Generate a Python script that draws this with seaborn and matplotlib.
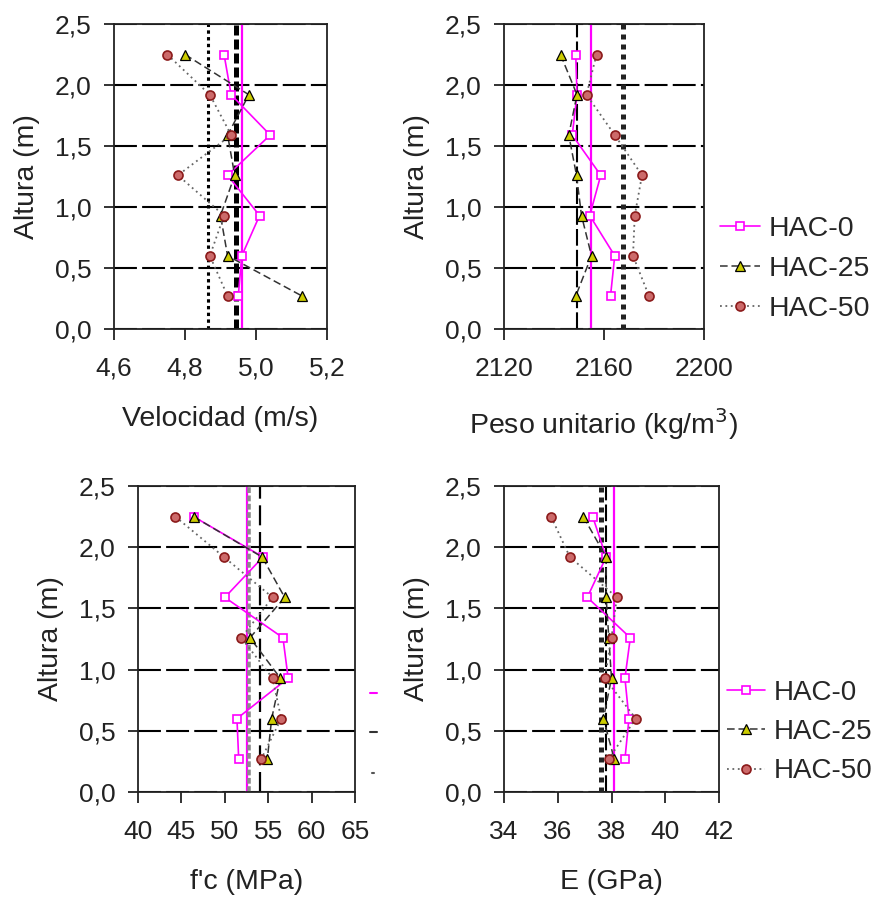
import matplotlib
matplotlib.use('Agg')
import matplotlib.pyplot as plt
from matplotlib.lines import Line2D
from matplotlib.ticker import FixedLocator
import seaborn as sns

sns.set_theme(style='ticks')
plt.rcParams['font.family'] = ['Liberation Sans', 'DejaVu Sans']

# Heights (m) of the sampling points, top to bottom
altura = [2.25, 1.92, 1.59, 1.26, 0.93, 0.60, 0.27]
yticks = [0.0, 0.5, 1.0, 1.5, 2.0, 2.5]
ytick_labels = ['0,0', '0,5', '1,0', '1,5', '2,0', '2,5']
series = ['HAC-0', 'HAC-25', 'HAC-50']

# Velocidad (m/s)
vel_hac0 = [4.91, 4.93, 5.04, 4.92, 5.01, 4.96, 4.95]
vel_hac25 = [4.80, 4.98, 4.92, 4.94, 4.90, 4.92, 5.13]
vel_hac50 = [4.75, 4.87, 4.93, 4.78, 4.91, 4.87, 4.92]
vel_mean = [4.96, 4.944, 4.866]
vel_ticks = [4.6, 4.8, 5.0, 5.2]
vel_labels = ['4,6', '4,8', '5,0', '5,2']

# Peso unitario (kg/m3)
peso_hac0 = [2148.7, 2149.2, 2147.3, 2158.7, 2154.3, 2164.3, 2162.6]
peso_hac25 = [2142.6, 2149.2, 2145.9, 2149.0, 2151.0, 2155.0, 2148.7]
peso_hac50 = [2157.0, 2153.0, 2164.3, 2175.2, 2172.3, 2171.6, 2178.0]
peso_mean = [2154.7, 2149.2, 2167.6]
peso_ticks = [2120, 2160, 2200]
peso_labels = ['2120', '2160', '2200']

# f'c (MPa)
fc_hac0 = [46.4, 54.4, 50.0, 56.7, 57.3, 51.4, 51.6]
fc_hac25 = [46.4, 54.3, 56.9, 52.9, 56.4, 55.4, 54.9]
fc_hac50 = [44.3, 49.9, 55.5, 51.9, 55.5, 56.5, 54.2]
fc_mean = [52.6, 54.0, 52.8]
fc_ticks = [40, 45, 50, 55, 60, 65]
fc_labels = ['40', '45', '50', '55', '60', '65']

# E (GPa)
e_hac0 = [37.3, 37.8, 37.1, 38.7, 38.5, 38.65, 38.5]
e_hac25 = [36.95, 37.8, 37.8, 37.9, 38.0, 37.7, 38.1]
e_hac50 = [35.75, 36.45, 38.2, 38.0, 37.75, 38.9, 37.9]
e_mean = [38.1, 37.78, 37.6]
e_ticks = [34, 36, 38, 40, 42]
e_labels = ['34', '36', '38', '40', '42']

MAG = '#ff00ff'
FS_TICK = 19
FS = 20.5

point_style = {
    'HAC-0': dict(color=MAG, marker='s', markersize=6, markerfacecolor='white',
                  markeredgecolor=MAG, markeredgewidth=1.2, linestyle='-', linewidth=1.2),
    'HAC-25': dict(color='#333333', marker='^', markersize=7.5, markerfacecolor='#cccc00',
                   markeredgecolor='black', markeredgewidth=0.9, linestyle=(0, (5, 2.5)), linewidth=1.1),
    'HAC-50': dict(color='#666666', marker='o', markersize=6.5, markerfacecolor='#cc6a6a',
                   markeredgecolor='#8b1a1a', markeredgewidth=1.2, linestyle=(0, (1, 2)), linewidth=1.3),
}

fig = plt.figure(figsize=(8.83, 8.98), dpi=100)


def draw_panel(rect, values, means, mean_styles, xlim, xticks, xlabels, xlabel,
               legend=False, legend_fs=FS):
    ax = fig.add_axes(rect)
    for m, ms in zip(means, mean_styles):
        ax.axvline(m, zorder=2, **ms)
    for name, vals in zip(series, values):
        sns.lineplot(x=vals, y=altura, sort=False, estimator=None, ax=ax,
                     label=name, zorder=3, **point_style[name])
    ax.set_xlim(*xlim)
    ax.set_ylim(0, 2.5)
    ax.xaxis.set_major_locator(FixedLocator(xticks))
    ax.set_xticklabels(xlabels)
    ax.set_yticks(yticks)
    ax.set_yticklabels(ytick_labels)
    ax.yaxis.grid(True, color='black', linewidth=1.5, linestyle=(0, (11, 2.5)))
    ax.set_axisbelow(True)
    for sp in ax.spines.values():
        sp.set_color('#222222')
        sp.set_linewidth(1.3)
    ax.tick_params(axis='x', direction='out', length=8, width=1.3, pad=12,
                   labelsize=FS_TICK, colors='#222222')
    ax.tick_params(axis='y', direction='out', length=7, width=1.3, pad=9,
                   labelsize=FS_TICK, colors='#222222')
    ax.set_xlabel(xlabel, fontsize=FS, labelpad=18, color='#222222')
    ax.set_ylabel('Altura (m)', fontsize=FS, labelpad=11, color='#222222')
    if legend:
        ax.legend(loc='center left', bbox_to_anchor=legend, frameon=False,
                  fontsize=legend_fs, borderpad=0, borderaxespad=0, handlelength=1.4,
                  handletextpad=0.3, labelspacing=0.48, numpoints=1)
    else:
        ax.get_legend().remove()
    return ax


thick_dash = dict(color='black', linewidth=3.6, linestyle=(0, (2, 0.8)))
thin_dash = dict(color='black', linewidth=1.5, linestyle=(0, (8, 2)))
fine_dot = dict(color='black', linewidth=2.2, linestyle=(0, (1.1, 1.1)))
thick_dot = dict(color='#222222', linewidth=3.6, linestyle=(0, (1, 1)))
gray_dash = dict(color='#8c8c8c', linewidth=2.6, linestyle=(0, (1.6, 0.7)))
mag_solid = dict(color=MAG, linewidth=1.6, linestyle='-')

draw_panel([114 / 883, 1 - 329 / 898, 213 / 883, 305 / 898],
           [vel_hac0, vel_hac25, vel_hac50], vel_mean,
           [mag_solid, thick_dash, fine_dot],
           (4.6, 5.2), vel_ticks, vel_labels, 'Velocidad (m/s)')

draw_panel([504 / 883, 1 - 329 / 898, 200 / 883, 305 / 898],
           [peso_hac0, peso_hac25, peso_hac50], peso_mean,
           [mag_solid, thin_dash, thick_dot],
           (2120, 2200), peso_ticks, peso_labels, 'Peso unitario (kg/m$^3$)',
           legend=(1.08, 0.197))

draw_panel([138 / 883, 1 - 792 / 898, 217 / 883, 306 / 898],
           [fc_hac0, fc_hac25, fc_hac50], fc_mean,
           [mag_solid, dict(color='black', linewidth=1.6, linestyle=(0, (9, 3))), gray_dash],
           (40, 65), fc_ticks, fc_labels, "f'c (MPa)")

draw_panel([504 / 883, 1 - 792 / 898, 215 / 883, 306 / 898],
           [e_hac0, e_hac25, e_hac50], e_mean,
           [mag_solid, thin_dash, thick_dot],
           (34, 42), e_ticks, e_labels, 'E (GPa)',
           legend=(1.035, 0.196), legend_fs=20)

# clipped legend remnants at the right edge of the f'c panel
fig.add_artist(Line2D([370 / 883, 377 / 883], [1 - 693 / 898] * 2, color=MAG, linewidth=1.5))
fig.add_artist(Line2D([370 / 883, 377 / 883], [1 - 732 / 898] * 2, color='#333333', linewidth=1.5))
fig.add_artist(Line2D([372 / 883, 374 / 883], [1 - 773 / 898] * 2, color='#555555', linewidth=1.5))

fig.savefig('out.png', dpi=100, facecolor='white')
